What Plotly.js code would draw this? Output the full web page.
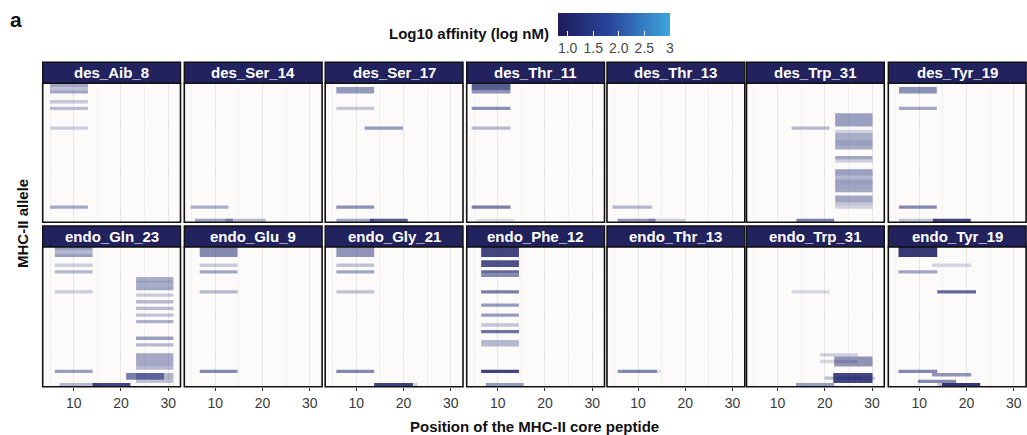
<!DOCTYPE html>
<html><head><meta charset="utf-8">
<script src="https://cdn.plot.ly/plotly-3.0.1.min.js"></script>
<style>html,body{margin:0;padding:0;background:#fff}#chart{width:1027px;height:435px}</style>
</head><body><div id="chart"></div>
<script>
// ---------------- data ----------------
const panelNames = ['des_Aib_8','des_Ser_14','des_Ser_17','des_Thr_11','des_Thr_13','des_Trp_31','des_Tyr_19',
  'endo_Gln_23','endo_Glu_9','endo_Gly_21','endo_Phe_12','endo_Thr_13','endo_Trp_31','endo_Tyr_19'];
const nAlleles = 42;
const xTickVals = [10, 20, 30];
const colorTickVals = [1.0, 1.5, 2.0, 2.5, 3.0];
const colorTickText = ['1.0', '1.5', '2.0', '2.5', '3'];
const affinityMin = 0.81, affinityMax = 3.0;

// each segment: [firstAlleleRow, lastAlleleRow, coreStart, coreEnd, log10Affinity, alpha]
const des_Aib_8 = [
  [1,1,5,13,1.3,0.42],[2,2,5,13,1.3,0.28],[3,3,5,13,1.3,0.42],
  [6,6,5,13,1.3,0.25],[8,8,5,13,1.3,0.3],[14,14,5,13,1.3,0.22],[38,38,5,13,1.3,0.4]];
const des_Ser_14 = [
  [38,38,4.8,12.8,1.3,0.38],[42,42,5.7,13.7,1.3,0.45],[42,42,12.2,20.7,1.3,0.32]];
const des_Ser_17 = [
  [2,3,5.8,13.8,1.3,0.48],[8,8,5.8,13.8,1.3,0.25],[14,14,11.8,19.9,1.3,0.48],
  [38,38,5.8,13.8,1.3,0.52],[42,42,5.8,13.8,1.3,0.42],[42,42,12.9,20.9,1.1,0.75]];
const des_Thr_11 = [
  [1,2,4.5,12.7,1.15,0.75],[3,3,4.5,12.7,1.2,0.5],[8,8,4.5,12.7,1.3,0.52],
  [14,14,4.5,12.7,1.3,0.32],[38,38,4.5,12.7,1.2,0.6],[42,42,5.5,13.6,1.3,0.15]];
const des_Thr_13 = [
  [38,38,4.6,13,1.3,0.33],[42,42,5.7,13.7,1.2,0.5],[42,42,12.2,20,1.3,0.22]];
const des_Trp_31 = [
  [10,13,22.2,30.1,1.3,0.45],[14,14,13,21,1.3,0.32],[15,15,22.2,30.1,1.3,0.2],
  [16,17,22.2,30.1,1.3,0.38],[18,19,22.2,30.1,1.3,0.45],[20,20,22.2,30.1,1.3,0.38],
  [23,23,22.2,30.1,1.3,0.42],[24,24,22.2,30.1,1.3,0.2],[27,28,22.2,30.1,1.3,0.45],
  [29,29,22.2,30.1,1.3,0.33],[30,31,22.2,30.1,1.3,0.45],[32,33,22.2,30.1,1.3,0.42],
  [35,36,22.2,30.1,1.3,0.42],[37,37,22.2,30.1,1.3,0.28],[38,38,22.2,30.1,1.3,0.2],
  [42,42,14,22,1.2,0.6]];
const des_Tyr_19 = [
  [2,3,5.7,13.7,1.3,0.52],[8,8,5.7,13.7,1.3,0.42],[38,38,5.7,13.7,1.2,0.55],
  [42,42,5.7,13.7,1.3,0.28],[42,42,12.9,20.9,1.05,0.85]];
const endo_Gln_23 = [
  [1,1,6,14,1.3,0.45],[2,2,6,14,1.3,0.32],[3,3,6,14,1.3,0.45],[6,6,6,14,1.3,0.22],
  [8,8,6,14,1.3,0.33],[14,14,6,14,1.3,0.22],[38,38,6,14,1.3,0.45],
  [42,42,7,15,1.3,0.32],[42,42,14,22,1.05,0.85],
  [10,10,23.2,31.1,1.3,0.38],[11,11,23.2,31.1,1.3,0.45],[12,12,23.2,31.1,1.3,0.38],[13,13,23.2,31.1,1.3,0.42],
  [15,15,23.2,31.1,1.3,0.24],[17,17,23.2,31.1,1.3,0.32],[19,19,23.2,31.1,1.3,0.32],[21,21,23.2,31.1,1.3,0.28],
  [23,23,23.2,31.1,1.3,0.37],[28,28,23.2,31.1,1.3,0.45],[30,30,23.2,31.1,1.3,0.32],
  [33,36,23.2,31.1,1.3,0.4],[37,37,23.2,31.1,1.3,0.32],
  [39,40,21.1,29.1,1.2,0.6],[39,40,23.2,31.1,1.3,0.35],[41,41,23.2,31.1,1.3,0.28]];
const endo_Glu_9 = [
  [1,3,6.7,14.7,1.25,0.55],[6,6,6.7,14.7,1.3,0.24],[8,8,6.7,14.7,1.3,0.42],
  [14,14,6.7,14.7,1.3,0.32],[38,38,6.7,14.7,1.25,0.55]];
const endo_Gly_21 = [
  [1,3,5.8,13.8,1.25,0.5],[6,6,5.8,13.8,1.3,0.28],[8,8,5.8,13.8,1.3,0.42],
  [14,14,5.8,13.8,1.3,0.28],[38,38,5.8,13.8,1.25,0.55],
  [42,42,13.8,22,1.05,0.85],[42,42,15,23,1.3,0.18]];
const endo_Phe_12 = [
  [1,3,6.5,14.5,1.05,0.85],[5,6,6.5,14.5,1.1,0.8],[8,8,6.5,14.5,1.2,0.7],[9,9,6.5,14.5,1.2,0.55],
  [14,14,6.5,14.5,1.2,0.6],[18,18,6.5,14.5,1.3,0.47],[21,21,6.5,14.5,1.3,0.47],
  [24,24,6.5,14.5,1.3,0.26],[26,26,6.5,14.5,1.2,0.65],[29,30,6.5,14.5,1.3,0.32],
  [38,38,6.5,14.5,1.05,0.85],[42,42,7.5,15.5,1.3,0.47]];
const endo_Thr_13 = [
  [38,38,5.7,14,1.2,0.5],[38,38,6.7,14.8,1.3,0.15]];
const endo_Trp_31 = [
  [14,14,13,21,1.3,0.18],[33,33,19,27,1.3,0.22],[34,36,22,30.1,1.2,0.5],[35,35,19,27,1.3,0.18],
  [39,41,21.8,30.1,1.05,0.85],[40,40,20,28,1.3,0.3],[40,40,22.5,30.6,1.3,0.25],
  [42,42,13.9,22,1.3,0.45]];
const endo_Tyr_19 = [
  [1,3,5.6,13.8,1.0,0.9],[6,6,12.7,21,1.3,0.18],[8,8,5.6,13.8,1.3,0.42],
  [14,14,13.8,22,1.15,0.7],[38,38,5.6,13.8,1.2,0.55],[39,39,12.7,21,1.3,0.5],
  [41,41,9.7,17.8,1.25,0.55],[42,42,13.8,21.8,1.3,0.25],[42,42,14.8,22.9,1.0,0.9]];

const panelSegments = [des_Aib_8, des_Ser_14, des_Ser_17, des_Thr_11, des_Thr_13, des_Trp_31, des_Tyr_19,
  endo_Gln_23, endo_Glu_9, endo_Gly_21, endo_Phe_12, endo_Thr_13, endo_Trp_31, endo_Tyr_19];

// ---------------- layout geometry (pixels) ----------------
const W = 1027, H = 435;
const colLeft = [42.7, 184.3, 325.2, 466.7, 607.0, 746.5, 888.3];
const panelW = 137.8;
const rowTop = [83.3, 246.7], rowBottom = [222.3, 386.7];
const stripTop = [62.3, 226.0];
const FONT = 'Liberation Sans, Arial, sans-serif';
const NAVY = '#22225e';

const px = v => v / W, py = v => 1 - v / H;

const traces = [], shapes = [], annotations = [];
const layout = {
  width: W, height: H, margin: {l: 0, r: 0, t: 0, b: 0}, autosize: false,
  paper_bgcolor: '#ffffff', plot_bgcolor: '#fcfbf9', showlegend: false, hovermode: false,
  barmode: 'overlay', font: {family: FONT, color: '#333'},
  coloraxis: {
    cmin: affinityMin, cmax: affinityMax,
    colorscale: [[0, '#1f1b5a'], [0.45, '#28459a'], [1, '#3ea5de']],
    colorbar: {
      orientation: 'h', x: px(613.9), xanchor: 'center', y: py(12.7), yanchor: 'top',
      lenmode: 'pixels', len: 112.3, thickness: 23, xpad: 0, ypad: 0, outlinewidth: 0,
      tickvals: colorTickVals, ticktext: colorTickText, ticks: 'inside', ticklen: 5,
      tickcolor: '#ffffff', tickwidth: 1, tickfont: {size: 14, color: '#4a4a4a', family: FONT}
    }
  }
};

panelNames.forEach((name, i) => {
  const r = Math.floor(i / 7), c = i % 7, n = i + 1;
  const xk = n === 1 ? 'xaxis' : 'xaxis' + n, yk = n === 1 ? 'yaxis' : 'yaxis' + n;
  const L = colLeft[c], R = L + panelW, T = rowTop[r], B = rowBottom[r];
  layout[xk] = {
    domain: [px(L), px(R)], range: [3.44, 32.6], anchor: 'y' + n,
    tickvals: xTickVals, showticklabels: r === 1, ticks: r === 1 ? 'outside' : '',
    ticklen: 3, tickcolor: '#333', tickfont: {size: 14, color: '#3a3a3a', family: FONT},
    showgrid: true, gridcolor: '#e6e6e6', gridwidth: 1, zeroline: false, showline: false,
    minor: {tickvals: [5, 15, 25], showgrid: true, gridcolor: '#efefef', gridwidth: 0.8, ticks: ''},
    fixedrange: true
  };
  layout[yk] = {
    domain: [py(B), py(T)], range: [nAlleles + 0.6, 0.4], anchor: 'x' + n,
    showticklabels: false, ticks: '', showgrid: true, dtick: 3, tick0: 2,
    gridcolor: '#f8f7f4', gridwidth: 0.5, zeroline: false, showline: false, fixedrange: true
  };
  const segs = panelSegments[i];
  traces.push({
    type: 'bar', orientation: 'h', xaxis: 'x' + n, yaxis: 'y' + n,
    y: segs.map(s => (s[0] + s[1]) / 2),
    width: segs.map(s => s[1] - s[0] + 1),
    base: segs.map(s => s[2]),
    x: segs.map(s => s[3] - s[2]),
    marker: {color: segs.map(s => s[4]), coloraxis: 'coloraxis',
             opacity: segs.map(s => s[5]), line: {width: 0}},
    hoverinfo: 'skip'
  });
  // panel border
  shapes.push({type: 'rect', xref: 'paper', yref: 'paper', x0: px(L), x1: px(R), y0: py(B), y1: py(T),
    line: {color: '#111', width: 1.6}, fillcolor: 'rgba(0,0,0,0)', layer: 'above'});
  // strip
  shapes.push({type: 'rect', xref: 'paper', yref: 'paper', x0: px(L), x1: px(R), y0: py(T), y1: py(stripTop[r]),
    line: {color: '#111', width: 1.4}, fillcolor: NAVY, layer: 'above'});
  annotations.push({xref: 'paper', yref: 'paper', x: px((L + R) / 2), y: py((T + stripTop[r]) / 2),
    xanchor: 'center', yanchor: 'middle', showarrow: false,
    text: '<b>' + name + '</b>', font: {size: 15, color: '#ffffff', family: FONT}});
});
// axis titles / labels
annotations.push({xref: 'paper', yref: 'paper', x: px(534), y: py(426), xanchor: 'center', yanchor: 'middle',
  showarrow: false, text: '<b>Position of the MHC-II core peptide</b>', font: {size: 15, color: '#111', family: FONT}});
annotations.push({xref: 'paper', yref: 'paper', x: px(22), y: py(224), xanchor: 'center', yanchor: 'middle',
  showarrow: false, textangle: -90, text: '<b>MHC-II allele</b>', font: {size: 15, color: '#111', family: FONT}});
annotations.push({xref: 'paper', yref: 'paper', x: px(551), y: py(33), xanchor: 'right', yanchor: 'middle',
  showarrow: false, text: '<b>Log10 affinity (log nM)</b>', font: {size: 15, color: '#111', family: FONT}});
annotations.push({xref: 'paper', yref: 'paper', x: px(8), y: py(20), xanchor: 'left', yanchor: 'middle',
  showarrow: false, text: '<b>a</b>', font: {size: 21, color: '#111', family: FONT}});
layout.shapes = shapes;
layout.annotations = annotations;

Plotly.newPlot('chart', traces, layout, {displayModeBar: false, staticPlot: true});
</script></body></html>
